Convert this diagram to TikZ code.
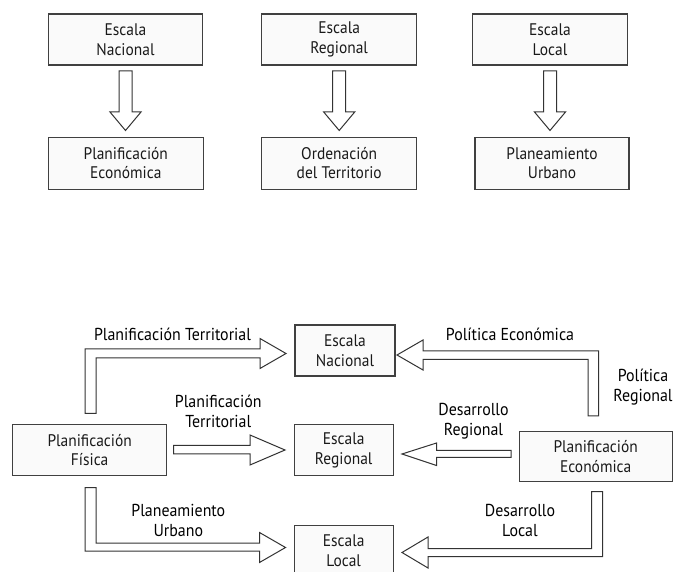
\documentclass[tikz,border=0pt]{standalone}
\usepackage{fontspec}
\setmainfont{PT Sans}[FakeStretch=0.92]
\begin{document}
\begin{tikzpicture}[x=1pt, y=-1pt,
  box/.style={draw=black!75, line width=1.1pt, fill=black!2, align=center,
    inner sep=0pt, minimum height=51pt, text=black!90,
    font=\fontsize{16.8}{19.5}\selectfont},
  lbl/.style={align=center, inner sep=0pt, text=black,
    font=\fontsize{17.3}{19.5}\selectfont},
  hollow/.style={draw=black!80, line width=1pt, fill=white, line join=miter}]
\useasboundingbox (0,0) rectangle (673,572);

% ---------- scales and their planning levels ----------
\node[box, minimum width=154pt] (en1) at (125.5,39.5) {Escala\\Nacional};
\node[box, minimum width=155pt] (er1) at (339.2,39.5) {Escala\\Regional};
\node[box, minimum width=155pt] (el1) at (550,39.5) {Escala\\Local};
\node[box, minimum width=155pt, minimum height=52pt] (pe1) at (125.8,163.3) {Planificación\\Económica};
\node[box, minimum width=155pt, minimum height=52pt] (ot1) at (339.2,163.3) {Ordenación\\del Territorio};
\node[box, minimum width=154pt, minimum height=52pt] (pu1) at (552,163.3) {Planeamiento\\Urbano};

% downward hollow arrows
\foreach \cx in {125.5,339.2,550}{
  \draw[hollow] (\cx-6.5,71) -- (\cx+6.5,71) -- (\cx+6.5,112) -- (\cx+15.5,112)
    -- (\cx,130.5) -- (\cx-15.5,112) -- (\cx-6.5,112) -- cycle;
}

% ---------- physical and economic planning ----------
\node[box, minimum width=154pt, minimum height=51pt] (fis) at (89.7,450.3) {Planificación\\Física};
\node[box, minimum width=100pt, minimum height=51pt] (nac) at (345,350.5) {Escala\\Nacional};
\node[box, minimum width=99pt, minimum height=51pt] (reg) at (343.7,450.3) {Escala\\Regional};
\node[box, minimum width=99pt, minimum height=51pt] (loc) at (343.7,550.8) {Escala\\Local};
\node[box, minimum width=153pt, minimum height=50pt] (eco) at (595.7,456.6) {Planificación\\Económica};

% Física -> Nacional
\draw[hollow] (85,413.5) -- (85,349) -- (260,349) -- (260,338.5) -- (286,353.5)
  -- (260,368.5) -- (260,358) -- (96,358) -- (96,413.5) -- cycle;
% Física -> Regional
\draw[hollow] (173.5,445.5) -- (250,445.5) -- (250,435) -- (285,450) -- (250,465)
  -- (250,454) -- (173.5,454) -- cycle;
% Física -> Local
\draw[hollow] (85,487.5) -- (96,487.5) -- (96,543) -- (259.5,543) -- (259.5,532.5)
  -- (285.5,547.5) -- (259.5,562.5) -- (259.5,551) -- (85,551) -- cycle;

% Económica -> Nacional
\draw[hollow] (598.5,416) -- (598.5,351) -- (423,351) -- (423,340) -- (397,355)
  -- (423,370) -- (423,359.5) -- (588,359.5) -- (588,416) -- cycle;
% Económica -> Regional
\draw[hollow] (511,450.5) -- (436.5,450.5) -- (436.5,443) -- (402,454) -- (436.5,465.5)
  -- (436.5,457.5) -- (511,457.5) -- cycle;
% Económica -> Local
\draw[hollow] (591.5,491.5) -- (602.5,491.5) -- (602.5,556.5) -- (428,556.5) -- (428,568)
  -- (402,552.5) -- (428,537) -- (428,548.5) -- (591.5,548.5) -- cycle;

% labels
\node[lbl] (l1) at (172.5,334.5) {Planificación Territorial};
\node[lbl] (l2) at (218.3,411.2) {Planificación\\Territorial};
\node[lbl] (l3) at (178.3,520.5) {Planeamiento\\Urbano};
\node[lbl] (l4) at (510,334.5) {Política Económica};
\node[lbl] (l5) at (643,387) {Política\\Regional};
\node[lbl] (l6) at (473.5,421) {Desarrollo\\Regional};
\node[lbl] (l7) at (520,520.5) {Desarrollo\\Local};
\end{tikzpicture}
\end{document}
